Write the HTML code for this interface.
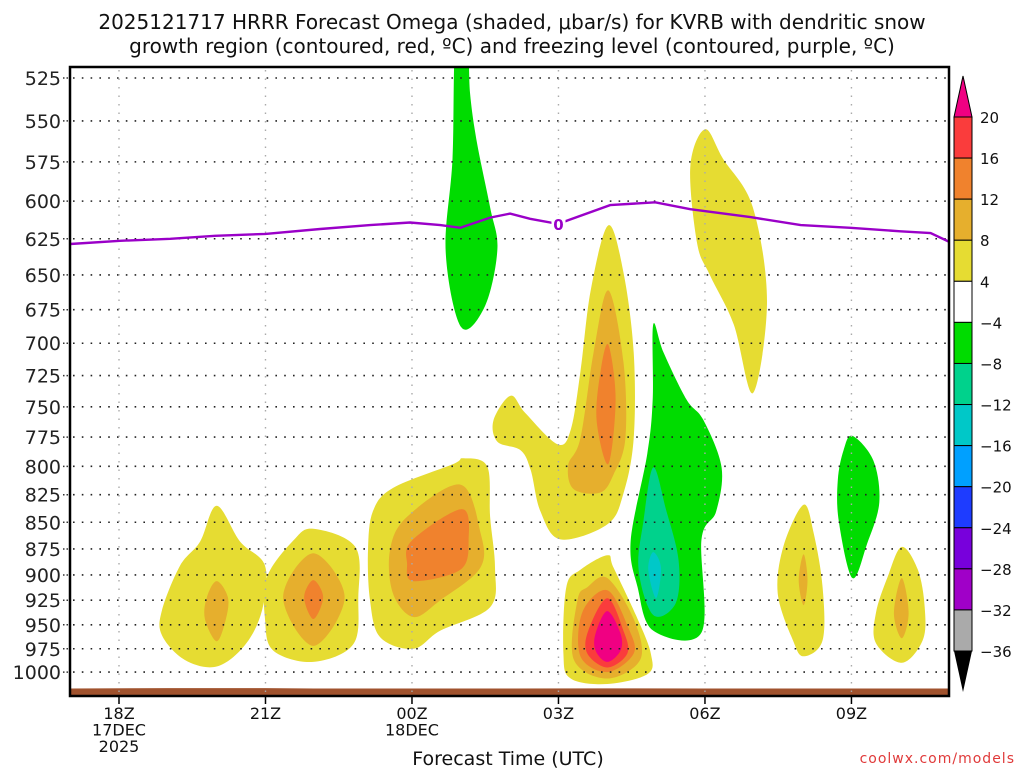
<!DOCTYPE html>
<html><head><meta charset="utf-8">
<style>
body{margin:0;background:#fff;width:1024px;height:768px;overflow:hidden;font-family:"Liberation Sans",sans-serif;}
svg{display:block}
text{font-family:"DejaVu Sans","Liberation Sans",sans-serif;}
</style></head>
<body>
<svg id="chart" width="1024" height="768" xmlns="http://www.w3.org/2000/svg">
<text x="512" y="29" text-anchor="middle" font-size="20" fill="#111">2025121717 HRRR Forecast Omega (shaded, μbar/s) for KVRB with dendritic snow</text>
<text x="512" y="53" text-anchor="middle" font-size="20" fill="#111">growth region (contoured, red, ºC) and freezing level (contoured, purple, ºC)</text>
<defs><clipPath id="plotclip"><rect x="70" y="67" width="879" height="629"/></clipPath></defs>
<g id="shade" clip-path="url(#plotclip)"></g>
<g id="grid"></g>
<g id="fzl" clip-path="url(#plotclip)"></g>
<g id="axes"></g>
<g id="cbar"></g>
<text x="508" y="765" text-anchor="middle" font-size="19" fill="#111">Forecast Time (UTC)</text>
<text x="1015" y="763" text-anchor="end" font-size="14" fill="#e03a3a" letter-spacing="1">coolwx.com/models</text>
</svg>
<script>
// ---- data ----
const pressureLevels=[525,550,575,600,625,650,675,700,725,750,775,800,825,850,875,900,925,950,975,1000];
const tickHours=[18,21,24,27,30,33];
const tickLabels=[["18Z","17DEC","2025"],["21Z"],["00Z","18DEC"],["03Z"],["06Z"],["09Z"]];
const cbarLevels=[20,16,12,8,4,-4,-8,-12,-16,-20,-24,-28,-32,-36];
const cbarColors=["#fa3c3c","#f0822d","#e6af2d","#e6dc32","#ffffff","#00dc00","#00d28c","#00c8c8","#00a0ff","#1e3cff","#7800dc","#a000c8","#aaaaaa"];
const fzlHours=[17.0,18.02,19.05,19.97,21.0,22.12,23.14,23.96,24.58,24.99,25.6,26.01,26.42,26.99,28.06,28.98,29.7,30.93,31.96,32.98,34.0,34.62,35.0];
const fzlPres=[628.6,626.4,625,623,621.7,618.4,615.8,614.1,615.8,617.6,610.8,608.2,611.6,615,602.6,600.8,605.3,610.5,615.8,617.6,620,621.1,627.1];
const sfcHours=[17,19,21,22,24,26,28,30,32,35];
const sfcPres=[1018,1017.5,1017.5,1018,1018,1018,1017.8,1018,1018,1018];
// shaded contour regions: level, hours, pressures
const regions=[
 {lvl:4,h:[20.0,20.48,20.99,20.93,20.58,20.0,19.35,18.88,18.88,19.25,19.66],p:[835,868,891,935,971,994,987,961,935,891,868]},
 {lvl:8,h:[20.0,20.23,20.19,20.0,19.76,19.8],p:[906,922,944,967,944,922]},
 {lvl:4,h:[21.98,22.84,22.9,22.8,21.98,21.16,20.99,21.03,21.57],p:[856,873,922,970,989,977,944,902,867]},
 {lvl:8,h:[21.98,22.62,21.98,21.36],p:[879,922,972,922]},
 {lvl:12,h:[21.98,22.18,21.98,21.79],p:[905,922,944,922]},
 {lvl:4,h:[23.2,23.61,24.84,25.05,25.54,25.6,25.7,25.6,24.58,24.03,23.35,23.14,23.1],p:[840,819,798,793,800,845,893,932,956,975,963,925,876]},
 {lvl:8,h:[23.55,23.9,24.99,25.4,25.4,24.58,24.03,23.61],p:[876,845,816,859,893,925,942,918]},
 {lvl:12,h:[24.0,25.02,25.16,24.99,24.03,23.9],p:[867,838,867,895,906,889]},
 {lvl:-4,h:[24.89,25.13,25.19,25.33,25.6,25.75,25.5,25.01,24.69,24.83],p:[505,505,534,563,604,632,672,688,634,573]},
 {lvl:4,h:[28.02,28.33,28.54,28.54,28.33,28.0,27.04,26.63,26.43,26.22,25.75,25.67,26.02,26.32,26.98,27.25,27.45,27.66],p:[616,648,707,776,824,852,866,840,803,786,779,761,741,755,781,769,722,661]},
 {lvl:8,h:[28.02,28.33,28.37,28.13,27.86,27.31,27.2,27.45,27.72],p:[661,714,776,807,823,820,799,776,707]},
 {lvl:12,h:[28.02,28.17,28.02,27.78,27.86],p:[701,744,798,761,722]},
 {lvl:4,h:[28.0,28.13,28.62,28.89,28.83,28.0,27.25,27.1,27.16,27.45],p:[881,893,944,980,1002,1013,1007,980,912,895]},
 {lvl:8,h:[28.0,28.54,28.68,28.0,27.31,27.39,27.59],p:[903,944,986,1007,986,925,912]},
 {lvl:12,h:[28.0,28.43,28.54,28.0,27.45,27.49],p:[915,953,980,1000,983,937]},
 {lvl:16,h:[28.0,28.33,28.41,28.0,27.59,27.61],p:[923,956,980,995,980,956]},
 {lvl:20,h:[28.0,28.27,28.27,28.0,27.76,27.76],p:[936,959,977,989,977,959]},
 {lvl:-4,h:[28.94,29.15,29.62,29.97,30.34,30.23,29.93,29.93,28.94,28.62,28.48,28.82,28.93],p:[686,707,744,761,801,840,866,958,956,912,867,789,744]},
 {lvl:-8,h:[28.94,29.2,29.46,29.4,28.94,28.64,28.74],p:[801,838,886,928,940,895,849]},
 {lvl:-12,h:[28.94,29.1,29.0,28.84],p:[878,893,923,895]},
 {lvl:4,h:[30.0,30.37,30.98,31.27,30.98,30.59,30.1,29.84,29.7],p:[555,573,604,669,739,686,650,628,578]},
 {lvl:4,h:[32.02,32.23,32.41,32.41,32.02,31.8,31.49,31.61],p:[834,861,912,966,983,966,918,872]},
 {lvl:8,h:[32.02,32.1,32.02,31.92],p:[880,905,930,905]},
 {lvl:-4,h:[33.02,33.45,33.57,33.32,33.02,32.74,32.72,32.84],p:[774,795,832,870,903,849,812,786]},
 {lvl:4,h:[34.03,34.36,34.5,34.46,34.03,33.5,33.5,33.74],p:[873,895,932,966,990,969,938,902]},
 {lvl:8,h:[34.03,34.17,34.03,33.87],p:[903,938,964,938]}
];
// ---- axes ----
const X0=70,X1=949,Y0=67,Y1=696;
const xOf=h=>119+(h-18)*48.83;
const yOf=p=>78+922*Math.log(p/525);
const NS="http://www.w3.org/2000/svg";
function mk(tag,attrs,parent){const e=document.createElementNS(NS,tag);for(const k in attrs)e.setAttribute(k,attrs[k]);parent.appendChild(e);return e;}
function colorFor(l){const m={20:"#f00082",16:"#fa3c3c",12:"#f0822d",8:"#e6af2d",4:"#e6dc32","-4":"#00dc00","-8":"#00d28c","-12":"#00c8c8","-16":"#00a0ff"};return m[l];}
function smoothPath(pts){const n=pts.length;let d=`M${pts[0][0].toFixed(1)},${pts[0][1].toFixed(1)}`;
 for(let i=0;i<n;i++){const p0=pts[(i-1+n)%n],p1=pts[i],p2=pts[(i+1)%n],p3=pts[(i+2)%n];
  const c1=[p1[0]+(p2[0]-p0[0])/6,p1[1]+(p2[1]-p0[1])/6],c2=[p2[0]-(p3[0]-p1[0])/6,p2[1]-(p3[1]-p1[1])/6];
  d+=`C${c1[0].toFixed(1)},${c1[1].toFixed(1)} ${c2[0].toFixed(1)},${c2[1].toFixed(1)} ${p2[0].toFixed(1)},${p2[1].toFixed(1)}`;}
 return d+"Z";}
const shade=document.getElementById('shade');
const order=[4,-4,8,-8,12,-12,16,20];
order.forEach(l=>{regions.forEach((r,i)=>{if(r.lvl!==l)return;
 const pts=r.h.map((h,j)=>[xOf(h),yOf(r.p[j])]);
 const el=mk('path',{d:smoothPath(pts),fill:colorFor(r.lvl)},shade);
 
 
});});
// ground
{let d=`M${X0},${Y1}`;sfcHours.forEach((h,i)=>{d+=` L${xOf(h).toFixed(1)},${yOf(sfcPres[i]).toFixed(1)}`;});d+=` L${X1},${Y1}Z`;
 const g=mk('path',{d:d,fill:"#a0522d"},shade);
 
 }
// grid
const grid=document.getElementById('grid');
pressureLevels.forEach(p=>{const y=yOf(p);
 const l=mk('line',{x1:X0+3,x2:X1,y1:y,y2:y,stroke:"#222","stroke-width":1.6,"stroke-dasharray":"1.6 7.2"},grid);
 
 });
tickHours.forEach(h=>{const x=xOf(h);
 const l=mk('line',{x1:x,x2:x,y1:Y0+3,y2:Y1,stroke:"#aaa","stroke-width":1.4,"stroke-dasharray":"1.5 7"},grid);
 
 });
// freezing line
const fz=document.getElementById('fzl');
{const pts=fzlHours.map((h,i)=>`${xOf(h).toFixed(1)},${yOf(fzlPres[i]).toFixed(1)}`).join(' ');
 const pl=mk('polyline',{points:pts,fill:"none",stroke:"#9a00c8","stroke-width":2.4},fz);
 
 
 const lx=xOf(27),ly=yOf(615);
 mk('rect',{x:lx-7,y:ly-9,width:14,height:18,fill:"#fff"},fz);
 const t=mk('text',{x:lx,y:ly+6,"text-anchor":"middle","font-size":15,"font-weight":"bold",fill:"#9a00c8"},fz);t.textContent="0";
 
 }
// axes
const ax=document.getElementById('axes');
mk('rect',{x:X0,y:Y0,width:X1-X0,height:Y1-Y0,fill:"none",stroke:"#000","stroke-width":2.5},ax);
pressureLevels.forEach(p=>{const y=yOf(p);
 mk('line',{x1:X0-7,x2:X0,y1:y,y2:y,stroke:"#333","stroke-width":1.5,"stroke-dasharray":"1.5 2"},ax);
 const t=mk('text',{x:X0-9,y:y+7,"text-anchor":"end","font-size":19,fill:"#222"},ax);t.textContent=p;
 
 });
tickHours.forEach((h,i)=>{const x=xOf(h);
 mk('line',{x1:x,x2:x,y1:Y1,y2:Y1+8,stroke:"#000","stroke-width":1.5},ax);
 tickLabels[i].forEach((s,k)=>{const t=mk('text',{x:x,y:Y1+23+k*16.5,"text-anchor":"middle","font-size":16,fill:"#111"},ax);t.textContent=s;
  
  });});
// colorbar
const cb=document.getElementById('cbar');
const CX=954,CW=18,CT=117,CS=(651-117)/13;
mk('polygon',{points:`${CX},${CT} ${CX+CW},${CT} ${CX+CW/2},${CT-41}`,fill:"#f00082",stroke:"#000","stroke-width":1},cb);
cbarColors.forEach((c,i)=>{const r=mk('rect',{x:CX,y:CT+i*CS,width:CW,height:CS,fill:c,stroke:"#000","stroke-width":1},cb);
 
 });
mk('polygon',{points:`${CX},${CT+13*CS} ${CX+CW},${CT+13*CS} ${CX+CW/2},${CT+13*CS+41}`,fill:"#000"},cb);
cbarLevels.forEach((v,i)=>{const t=mk('text',{x:CX+26,y:CT+i*CS+6,"font-size":15,fill:"#111"},cb);t.textContent=(v<0?"−":"")+Math.abs(v);
 
 });
</script>
</body></html>
